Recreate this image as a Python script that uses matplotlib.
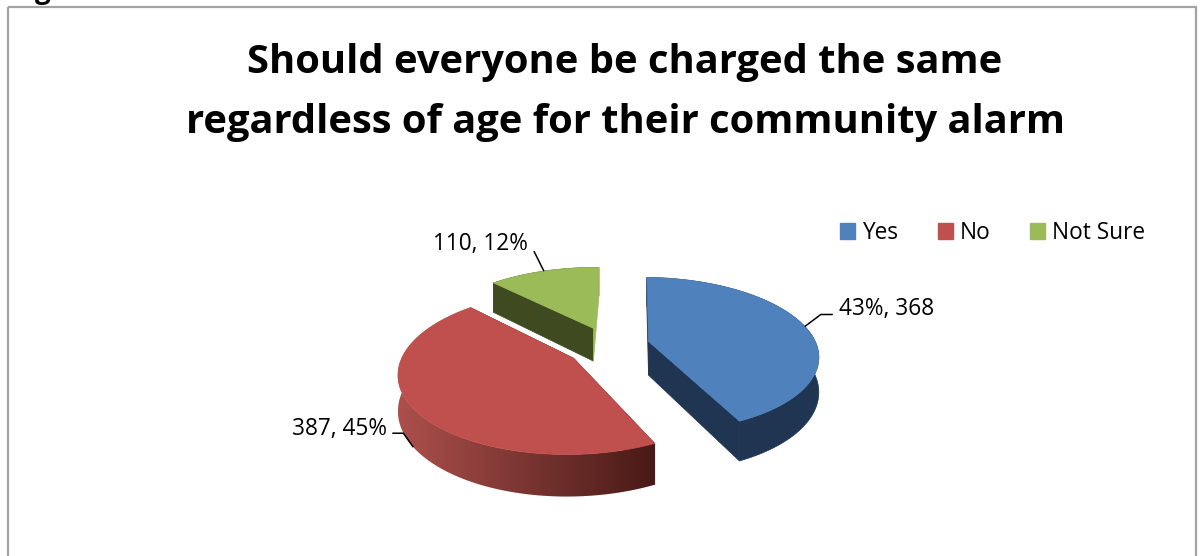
import numpy as np
import matplotlib
matplotlib.use("Agg")
import matplotlib.pyplot as plt
from matplotlib.patches import Polygon, Patch, Rectangle

plt.rcParams['font.family'] = ['Open Sans', 'DejaVu Sans']

# Survey responses
categories = ["Yes", "No", "Not Sure"]
counts = [368, 387, 110]
percents = [43, 45, 12]
title_lines = ["Should everyone be charged the same",
               "regardless of age for their community alarm"]

top_colors = ["#4f81bd", "#c0504d", "#9bbb59"]
cut_colors = ["#1f3552", "#5a1f1c", "#3f4a20"]
wall_colors = ["#1f3552", None, "#3f4a20"]
wall_left = np.array([172, 80, 76]) / 255
wall_right = np.array([72, 26, 22]) / 255

# Projection of the tilted, exploded pie onto the page (pixel units)
CX, CY = 611, 345
RX, RY = 168, 76
PERSP = 0.17
EXPLODE = 0.23
DEPTH = 34
FIRST_ANGLE = np.deg2rad(1.5)
SLICE_NUDGE = [(0, 0), (-5, 3), (-4, -1)]


def project(x, y, drop=0.0, nudge=(0, 0)):
    p = 1 / (1 + PERSP * y)
    return CX + nudge[0] + RX * x * p, CY + nudge[1] - RY * y * p + DEPTH * drop * p


fig = plt.figure(figsize=(12.03, 5.56), dpi=100)
ax = fig.add_axes([0, 0, 1, 1])
ax.set_xlim(0, 1203)
ax.set_ylim(556, 0)
ax.axis("off")

# Chart frame, open past the lower page edge
ax.add_patch(Rectangle((8, 7), 1188, 600, fill=False, ec="#a3a3a3", lw=1.6, zorder=1))
ax.text(43, -2, "g", fontsize=20, fontweight="bold", ha="center", va="baseline",
        color="black", zorder=0)

for i, line in enumerate(title_lines):
    ax.text(625, 62 + 60 * i, line, fontsize=28.7, fontweight="bold",
            ha="center", va="center", color="black", zorder=5)

fractions = np.array(counts) / sum(counts)
edges = FIRST_ANGLE + np.concatenate([[0], np.cumsum(fractions)]) * 2 * np.pi
slices = {}
for i in range(len(counts)):
    t0, t1 = edges[i], edges[i + 1]
    mid = (t0 + t1) / 2
    slices[i] = (t0, t1, mid, EXPLODE * np.sin(mid), EXPLODE * np.cos(mid))


def rim(i, theta):
    _, _, _, ax0, ay0 = slices[i]
    return ax0 + np.sin(theta), ay0 + np.cos(theta)


def cut_face(i, theta, colour, order):
    _, _, _, ax0, ay0 = slices[i]
    n = SLICE_NUDGE[i]
    ex, ey = rim(i, theta)
    face = [project(ax0, ay0, 0, n), project(ex, ey, 0, n),
            project(ex, ey, 1, n), project(ax0, ay0, 1, n)]
    ax.add_patch(Polygon(face, closed=True, fc=colour, ec=colour, lw=0.5, zorder=order))


# Painter's order: back slice first
for i in [2, 1, 0]:
    t0, t1, mid, ax0, ay0 = slices[i]
    n = SLICE_NUDGE[i]
    theta = np.linspace(t0, t1, 160)
    rx, ry = rim(i, theta)

    cut_face(i, t0, cut_colors[i], 2)
    if i == 2:
        # The green slice's right cut catches the light and sits over its wall
        cut_face(i, t1, top_colors[2], 2.2)
    else:
        cut_face(i, t1, cut_colors[i], 2)

    # Outer wall as one band; the red slice is shaded across the page
    upper = np.column_stack(project(rx, ry, 0, n))
    lower = np.column_stack(project(rx, ry, 1, n))
    outline = np.vstack([upper, lower[::-1]])
    if wall_colors[i] is None:
        wall = Polygon(outline, closed=True, fc="none", ec="none", transform=ax.transData)
        ax.add_patch(wall)
        x0, x1 = outline[:, 0].min(), outline[:, 0].max()
        y0, y1 = outline[:, 1].min(), outline[:, 1].max()
        ramp = np.linspace(0, 1, 256)[:, None]
        grad = (wall_left + (wall_right - wall_left) * ramp)[None, :, :]
        im = ax.imshow(grad, extent=(x0, x1, y1, y0), aspect="auto", zorder=2,
                       interpolation="bilinear")
        im.set_clip_path(wall)
        ax.set_xlim(0, 1203)
        ax.set_ylim(556, 0)
    else:
        ax.add_patch(Polygon(outline, closed=True, fc=wall_colors[i], ec=wall_colors[i],
                             lw=0.5, zorder=2))

    # Top face
    tx, ty = project(rx, ry, 0, n)
    ox, oy = project(ax0, ay0, 0, n)
    ax.add_patch(Polygon(np.column_stack([np.r_[ox, tx], np.r_[oy, ty]]), closed=True,
                         fc=top_colors[i], ec=top_colors[i], lw=0.5, zorder=2.5))

# Data labels with elbow leader lines anchored on each slice's mid angle
label_text = [f"{percents[0]}%, {counts[0]}",
              f"{counts[1]}, {percents[1]}%",
              f"{counts[2]}, {percents[2]}%"]
label_pos = [(839, 309, "left"), (387, 429, "right"), (528, 244, "right")]
leader_drop = [0, 1, 0]
elbows = [[(16, -12), (28, -12)], [(-10, -14), (-21, -14)], [(-10, -20)]]
for i in range(3):
    mx, my = rim(i, slices[i][2])
    sx, sy = project(mx, my, leader_drop[i], SLICE_NUDGE[i])
    xs = [sx] + [sx + dx for dx, _ in elbows[i]]
    ys = [sy] + [sy + dy for _, dy in elbows[i]]
    ax.plot(xs, ys, color="black", lw=1.1, zorder=4, solid_capstyle="butt")
    x, y, ha = label_pos[i]
    ax.text(x, y, label_text[i], fontsize=16.3, ha=ha, va="center", color="black", zorder=5)

handles = [Patch(fc=c, ec=c) for c in top_colors]
ax.legend(handles, categories, loc="center left", bbox_to_anchor=(840, 233),
          bbox_transform=ax.transData, ncol=3, frameon=False, fontsize=16.3,
          handlelength=0.66, handleheight=0.66, handletextpad=0.3,
          columnspacing=1.76, borderpad=0, borderaxespad=0)

fig.savefig("out.png", dpi=100, facecolor="white")
